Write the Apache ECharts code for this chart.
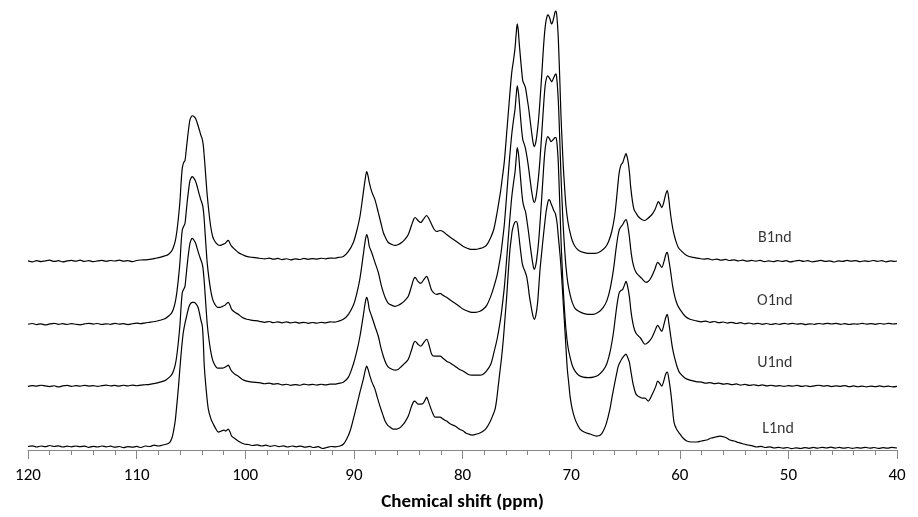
<!DOCTYPE html>
<html><head><meta charset="utf-8">
<script src="https://cdn.jsdelivr.net/npm/echarts@6/dist/echarts.min.js"></script>
<style>html,body{margin:0;padding:0;background:#fff}#c{width:918px;height:517px}</style>
</head><body><div id="c"></div>
<script>
const seriesNames = ['B1nd','O1nd','U1nd','L1nd'];
const offsets = [189,126,64,3];
const labelPpm = [51.25,51.25,51.25,50.95];
const labelLift = [23,23,23,18];
const axisTitle = 'Chemical shift (ppm)';

const B1nd = [[120,0.5],[119.6,-0.5],[119.2,0.8],[118.8,-0.2],[118.4,0.6],[118,1.2],[117.6,0],[117.2,0.7],[116.8,-0.4],[116.4,0.5],[116,1],[115.6,0.2],[115.2,1.2],[114.8,0],[114.4,0.8],[114,-0.3],[113.6,0.5],[113.2,1],[112.8,0.1],[112.4,0.9],[112,0.4],[111.6,1.3],[111.2,0.2],[110.8,0.8],[110.4,-0.2],[110,0.9],[109.6,1.4],[109.2,1.6],[108.8,2],[108.3,3],[107.85,4],[107.4,5.5],[107.08,7],[106.8,10],[106.62,14],[106.45,20],[106.31,29],[106.15,44],[106.0,62],[105.9,80],[105.79,94],[105.67,99],[105.55,101],[105.45,110],[105.33,122],[105.2,134],[105.09,142],[104.97,145],[104.87,146],[104.7,145],[104.56,143],[104.4,138],[104.23,132],[104.1,127],[104.0,124],[103.93,121],[103.86,116],[103.78,106],[103.7,95],[103.6,80],[103.49,65],[103.33,48],[103.18,35],[103.0,25],[102.79,20],[102.55,17],[102.32,16],[102.1,17],[101.86,18],[101.7,20],[101.56,21],[101.4,18],[101.25,15],[100.95,12],[100.64,9],[100.3,7],[99.87,5],[99.3,4],[98.7,3.2],[98.2,2.5],[97.8,3.3],[97.4,2.2],[97,3],[96.6,1.8],[96.2,2.7],[95.8,1.6],[95.4,2.6],[95,1.9],[94.6,3],[94.2,2.1],[93.8,2.9],[93.4,2.3],[93,3.2],[92.6,2.6],[92.2,3.4],[91.8,3.2],[91.4,4],[90.97,5],[90.5,10],[90.05,19],[89.75,30],[89.44,45],[89.13,69],[88.95,83],[88.82,90],[88.7,86],[88.58,79],[88.36,70],[88.06,62],[87.75,49],[87.5,38],[87.29,29],[87.05,23],[86.83,19],[86.5,17],[86.21,16],[85.9,17],[85.6,19],[85.3,22],[84.99,27],[84.7,36],[84.5,42],[84.37,44],[84.1,41],[83.85,39],[83.55,43],[83.3,46],[83.1,43],[82.84,37],[82.6,32],[82.37,30],[82.07,31],[81.8,30],[81.46,27],[81.1,24],[80.69,21],[80.3,18],[79.92,15],[79.5,13],[79.15,12],[78.8,12],[78.39,13],[78.1,14],[77.8,16],[77.4,24],[77.1,33],[76.8,50],[76.5,70],[76.39,79],[76.15,100],[75.93,129],[75.7,160],[75.47,189],[75.3,202],[75.17,213],[75.05,229],[74.96,238],[74.87,232],[74.78,219],[74.67,205],[74.56,192],[74.45,181],[74.3,177],[74.2,174],[74.07,165],[73.93,155],[73.78,142],[73.63,129],[73.5,119],[73.39,115],[73.28,118],[73.17,125],[73.0,142],[72.86,162],[72.7,188],[72.56,212],[72.45,228],[72.34,239],[72.25,244],[72.16,247],[72.05,246],[71.94,243],[71.85,239],[71.79,238],[71.7,240],[71.58,245],[71.48,250],[71.39,251],[71.3,244],[71.2,228],[71.14,212],[71.03,178],[70.93,145],[70.82,118],[70.72,95],[70.6,74],[70.47,55],[70.3,40],[70.1,29],[69.9,21],[69.64,15],[69.3,11],[68.88,9],[68.4,8],[67.8,8],[67.3,10],[66.86,14],[66.55,20],[66.26,30],[66.0,45],[65.8,65],[65.65,82],[65.56,90],[65.4,97],[65.25,99],[65.1,104],[64.95,108],[64.85,105],[64.74,99],[64.62,88],[64.52,75],[64.35,60],[64.21,52],[64.0,48],[63.82,45],[63.5,42],[63.2,41],[62.95,43],[62.74,45],[62.5,48],[62.28,52],[62.1,57],[61.97,60],[61.8,57],[61.66,54],[61.5,58],[61.3,67],[61.15,71],[61.0,62],[60.9,52],[60.75,40],[60.59,30],[60.4,22],[60.13,14],[59.8,10],[59.36,6],[58.8,4],[58.2,3],[57.8,2.2],[57.4,2.8],[57,1.6],[56.6,2.3],[56.2,1.2],[55.8,2],[55.4,0.9],[55,1.6],[54.6,0.5],[54.2,1.3],[53.8,0.2],[53.4,1],[53,0.3],[52.6,1.1],[52.2,-0.2],[51.8,0.6],[51.4,-0.3],[51,0.8],[50.6,0],[50.2,0.7],[49.8,-0.5],[49.4,0.4],[49,1],[48.6,0],[48.2,0.8],[47.8,-0.4],[47.4,0.3],[47,1.1],[46.6,0],[46.2,0.6],[45.8,-0.6],[45.4,0.5],[45,0],[44.6,1],[44.2,0.2],[43.8,0.8],[43.4,-0.3],[43,0.6],[42.6,0],[42.2,0.9],[41.8,0.1],[41.4,0.7],[41,-0.4],[40.6,0.5],[40.2,0],[40,0.4]];

const O1nd = [[120,0],[119.6,0.8],[119.2,-0.3],[118.8,0.5],[118.4,-0.6],[118,0.4],[117.6,1],[117.2,0],[116.8,0.6],[116.4,-0.2],[116,0.7],[115.6,0],[115.2,-0.5],[114.8,0.4],[114.4,1],[114,0.2],[113.6,0.8],[113.2,-0.2],[112.8,0.5],[112.4,0],[112,0.9],[111.6,0.2],[111.2,0.6],[110.8,-0.3],[110.4,0.5],[110,1.1],[109.6,0.6],[109.2,1.5],[108.8,2],[108.3,2.8],[107.85,4],[107.4,5.5],[107.08,8],[106.8,11],[106.62,15],[106.45,22],[106.31,31],[106.15,46],[106.0,64],[105.9,82],[105.79,95],[105.67,98],[105.55,101],[105.45,111],[105.33,124],[105.2,136],[105.09,144],[104.97,147],[104.87,148],[104.7,146],[104.56,143],[104.4,137],[104.23,130],[104.1,125],[104.0,122],[103.9,118],[103.8,108],[103.7,92],[103.6,76],[103.49,60],[103.33,45],[103.18,34],[103.0,25],[102.79,20],[102.55,17],[102.32,17],[102.1,18],[101.86,19],[101.7,21],[101.56,22],[101.4,19],[101.25,15],[100.95,12],[100.64,10],[100.3,7],[99.87,5],[99.3,4],[98.7,3],[98.2,2],[97.8,2.8],[97.4,1.6],[97,2.4],[96.6,1.5],[96.2,2.5],[95.8,1.4],[95.4,2.2],[95,1.2],[94.6,2],[94.2,1],[93.8,1.8],[93.4,1.1],[93,2],[92.6,1.5],[92.2,2.4],[91.8,2.2],[91.4,3.2],[90.97,5],[90.5,10],[90.05,19],[89.75,30],[89.44,46],[89.13,70],[88.95,84],[88.82,90],[88.7,86],[88.58,78],[88.36,72],[88.06,62],[87.75,52],[87.5,40],[87.29,32],[87.05,25],[86.83,21],[86.5,19],[86.21,18],[85.9,19],[85.6,21],[85.3,24],[84.99,28],[84.7,38],[84.5,45],[84.37,47],[84.1,43],[83.85,41],[83.55,45],[83.3,48],[83.1,43],[82.84,34],[82.6,31],[82.37,30],[82.07,31],[81.8,29],[81.46,27],[81.1,24],[80.69,21],[80.3,18],[79.92,15],[79.5,13],[79.15,12],[78.8,12],[78.39,13],[78.1,15],[77.77,19],[77.4,28],[77.1,38],[76.8,50],[76.5,68],[76.39,77],[76.15,100],[75.93,130],[75.7,162],[75.47,190],[75.3,205],[75.17,215],[75.05,230],[74.96,239],[74.85,232],[74.75,220],[74.6,200],[74.45,185],[74.3,180],[74.2,176],[74.07,168],[73.93,158],[73.78,145],[73.63,133],[73.5,125],[73.39,122],[73.28,125],[73.17,132],[73.0,148],[72.86,166],[72.7,192],[72.56,215],[72.45,232],[72.34,243],[72.16,249],[72.0,247],[71.85,244],[71.79,243],[71.65,246],[71.48,250],[71.39,251],[71.3,244],[71.2,228],[71.14,214],[71.03,180],[70.93,148],[70.82,120],[70.72,97],[70.6,76],[70.47,57],[70.3,41],[70.1,30],[69.9,22],[69.64,16],[69.3,13],[68.88,11],[68.4,10],[67.96,10],[67.5,12],[67.04,17],[66.7,24],[66.4,36],[66.1,55],[65.87,75],[65.7,88],[65.56,95],[65.4,98],[65.25,100],[65.1,103],[64.95,105],[64.82,101],[64.64,88],[64.5,74],[64.33,62],[64.15,55],[63.96,51],[63.5,46],[63.1,42],[62.8,44],[62.58,48],[62.3,55],[62.03,62],[61.85,60],[61.66,57],[61.45,63],[61.28,70],[61.15,72],[61.0,64],[60.83,52],[60.65,38],[60.44,27],[60.2,19],[59.98,15],[59.5,8],[59.06,5],[58.5,3.5],[58,2.5],[57.6,3.2],[57.2,2],[56.8,2.8],[56.4,1.6],[56,2.3],[55.6,1.2],[55.2,2],[54.8,0.8],[54.4,1.6],[54,0.5],[53.6,1.3],[53.2,0.3],[52.8,1],[52.4,0],[52,0.8],[51.6,-0.2],[51.2,0.6],[50.8,0],[50.4,0.9],[50,0.2],[49.6,1],[49.2,0.1],[48.8,0.7],[48.4,-0.3],[48,0.5],[47.6,0],[47.2,0.8],[46.8,0.2],[46.4,1],[46,0.3],[45.6,0.9],[45.2,0],[44.8,0.6],[44.4,-0.2],[44,0.5],[43.6,0.1],[43.2,0.9],[42.8,0.2],[42.4,0.7],[42,0],[41.6,0.8],[41.2,0.2],[40.8,0.9],[40.4,0.3],[40,0.7]];

const U1nd = [[120,-0.3],[119.6,0.5],[119.2,0],[118.8,0.9],[118.4,0.2],[118,-0.4],[117.6,0.4],[117.2,-0.8],[116.8,0.2],[116.4,0.7],[116,-0.2],[115.6,0.5],[115.2,0],[114.8,0.8],[114.4,0.1],[114,0.6],[113.6,-0.3],[113.2,0.5],[112.8,1],[112.4,0.2],[112,0.7],[111.6,0],[111.2,0.9],[110.8,0.3],[110.4,1],[110,0.4],[109.6,1.1],[109.2,1.4],[108.8,1.8],[108.3,2.8],[107.85,4],[107.4,5.5],[107.08,8],[106.8,11],[106.62,15],[106.45,21],[106.31,30],[106.15,45],[106.0,63],[105.9,81],[105.79,94],[105.67,97],[105.55,100],[105.45,110],[105.33,123],[105.2,135],[105.09,143],[104.97,147],[104.87,148],[104.7,146],[104.56,143],[104.4,137],[104.23,131],[104.1,127],[104.0,124],[103.9,119],[103.8,108],[103.7,93],[103.6,77],[103.49,61],[103.33,46],[103.18,35],[103.0,26],[102.79,21],[102.55,18],[102.32,18],[102.1,18],[101.86,19],[101.7,20],[101.56,21],[101.4,18],[101.25,15],[100.95,12],[100.64,10],[100.3,7],[99.87,5],[99.3,4],[98.7,3.5],[98.2,2.4],[97.8,3],[97.4,2],[97,2.6],[96.6,1.3],[96.2,1.9],[95.8,0.8],[95.4,1.6],[95,0.9],[94.6,2],[94.2,1.2],[93.8,1.8],[93.4,1],[93,1.9],[92.6,1.2],[92.2,2],[91.8,2],[91.4,2.8],[90.97,4],[90.5,9],[90.05,22],[89.75,34],[89.44,50],[89.13,71],[88.95,84],[88.82,89],[88.7,85],[88.58,77],[88.36,70],[88.06,60],[87.75,50],[87.5,38],[87.29,30],[87.05,23],[86.83,19],[86.5,17],[86.21,16],[85.9,17],[85.6,20],[85.3,23],[84.99,27],[84.7,36],[84.5,43],[84.37,45],[84.1,42],[83.85,40],[83.55,44],[83.3,47],[83.1,42],[82.84,32],[82.6,30],[82.37,30],[82.07,30],[81.8,28],[81.46,25],[81.1,23],[80.69,20],[80.3,17],[79.92,15],[79.5,12],[79.15,11],[78.8,11],[78.39,11],[78.1,12],[77.8,15],[77.4,22],[77.1,34],[76.8,48],[76.5,67],[76.39,76],[76.15,99],[75.93,128],[75.7,160],[75.47,189],[75.3,204],[75.17,214],[75.05,229],[74.96,239],[74.85,233],[74.75,221],[74.6,201],[74.45,185],[74.3,178],[74.2,175],[74.07,166],[73.93,155],[73.78,142],[73.63,130],[73.5,121],[73.39,117],[73.28,120],[73.17,127],[73.0,144],[72.86,164],[72.7,190],[72.56,214],[72.45,231],[72.34,242],[72.16,250],[72.0,248],[71.85,245],[71.79,245],[71.65,247],[71.48,249],[71.39,249],[71.3,243],[71.2,228],[71.14,212],[71.03,178],[70.93,146],[70.82,119],[70.72,96],[70.6,75],[70.47,56],[70.3,40],[70.1,29],[69.9,21],[69.64,15],[69.3,11],[68.88,9],[68.4,8.5],[67.96,9],[67.5,11],[67.04,16],[66.7,23],[66.4,35],[66.1,54],[65.87,74],[65.7,87],[65.56,94],[65.4,96],[65.25,97],[65.1,101],[64.95,105],[64.82,101],[64.64,90],[64.5,76],[64.33,64],[64.15,56],[63.96,52],[63.6,48],[63.2,42],[62.9,44],[62.6,48],[62.3,55],[62.03,61],[61.85,58],[61.66,55],[61.45,62],[61.28,69],[61.15,72],[61.0,63],[60.83,50],[60.65,37],[60.44,27],[60.2,18],[59.98,13],[59.5,8],[59.06,6],[58.5,4.5],[58.0,4],[57.6,3],[57.2,3.6],[56.8,2.5],[56.4,3],[56,2],[55.6,2.6],[55.2,1.5],[54.8,2.2],[54.4,1],[54,1.8],[53.6,0.8],[53.2,1.4],[52.8,0.5],[52.4,1.2],[52,0.2],[51.6,0.9],[51.2,0],[50.8,0.6],[50.4,-0.3],[50,0.5],[49.6,0],[49.2,0.8],[48.8,-0.2],[48.4,0.4],[48,-0.5],[47.6,0.3],[47.2,0.9],[46.8,0],[46.4,0.5],[46,-0.4],[45.6,0.3],[45.2,-0.2],[44.8,0.6],[44.4,-0.5],[44,0.2],[43.6,-0.6],[43.2,0],[42.8,-0.8],[42.4,0],[42,-0.5],[41.6,0.2],[41.2,-0.6],[40.8,0],[40.4,-0.7],[40,-0.2]];

const L1nd = [[120,0.5],[119.6,1.2],[119.2,0],[118.8,1],[118.4,0.3],[118,1.5],[117.6,0.5],[117.2,1.2],[116.8,0],[116.4,0.8],[116,0.2],[115.6,1],[115.2,0.3],[114.8,0.9],[114.4,-0.3],[114,0.6],[113.6,0],[113.2,1],[112.8,0.2],[112.4,0.8],[112,-0.2],[111.6,0.5],[111.2,-0.6],[110.8,0.4],[110.4,-0.2],[110,0.6],[109.6,-0.5],[109.2,1],[108.8,0.5],[108.4,1.8],[108,1],[107.6,2],[107.2,3],[106.93,5],[106.75,9],[106.62,15],[106.45,26],[106.31,41],[106.15,60],[106.0,81],[105.85,100],[105.7,115],[105.55,124],[105.4,131],[105.25,138],[105.09,143],[104.87,145],[104.7,145],[104.5,143],[104.35,140],[104.23,135],[104.1,128],[103.95,121],[103.86,105],[103.77,81],[103.6,58],[103.4,38],[103.15,28],[102.94,23],[102.7,18],[102.48,15],[102.2,16],[101.96,17],[101.8,16],[101.56,18],[101.4,15],[101.25,11],[100.9,8],[100.5,5],[100.1,3],[99.7,2.5],[99.3,1.5],[98.9,2.2],[98.5,1],[98.1,1.8],[97.7,0.6],[97.3,1.5],[96.9,0.4],[96.5,1.2],[96.1,0],[95.7,1],[95.3,0.2],[94.9,0.9],[94.5,-0.2],[94.1,0.6],[93.7,-0.5],[93.3,0.3],[92.9,-1.5],[92.5,-0.5],[92.1,0.5],[91.7,0.2],[91.28,1],[90.95,3],[90.66,8],[90.35,16],[90.05,28],[89.75,41],[89.44,55],[89.13,68],[88.95,77],[88.82,81],[88.7,78],[88.52,71],[88.3,64],[88.06,58],[87.85,50],[87.6,41],[87.35,33],[87.13,26],[86.9,22],[86.67,20],[86.4,18],[86.06,18],[85.8,19],[85.6,21],[85.3,25],[84.99,31],[84.75,39],[84.53,45],[84.4,46],[84.28,45],[84.1,43],[83.98,43],[83.8,43],[83.61,44],[83.45,47],[83.3,50],[83.15,46],[82.99,41],[82.75,34],[82.53,30],[82.3,30],[82.07,30],[81.8,28],[81.46,26],[81.1,23],[80.69,21],[80.3,18],[79.92,16],[79.7,14],[79.46,13],[79.1,12],[78.69,13],[78.4,14],[78.08,16],[77.8,19],[77.47,25],[77.2,32],[77.0,38],[76.85,48],[76.7,62],[76.55,76],[76.4,90],[76.24,108],[76.08,130],[75.93,151],[75.78,176],[75.63,198],[75.5,210],[75.4,218],[75.2,225],[75.05,226],[74.95,224],[74.85,216],[74.72,203],[74.6,192],[74.5,184],[74.4,180],[74.25,176],[74.1,171],[73.95,161],[73.85,152],[73.7,142],[73.55,133],[73.39,128],[73.25,132],[73.1,143],[72.98,160],[72.86,178],[72.7,196],[72.56,211],[72.43,224],[72.3,236],[72.15,245],[72.05,248],[71.95,247],[71.85,244],[71.7,240],[71.6,237],[71.45,234],[71.3,225],[71.17,210],[71.0,190],[70.87,170],[70.7,140],[70.56,115],[70.45,95],[70.35,78],[70.2,62],[70.1,51],[69.9,38],[69.64,28],[69.4,22],[69.18,18],[68.8,15],[68.26,13],[67.65,11],[67.3,12],[67.04,16],[66.75,24],[66.43,38],[66.2,52],[65.97,65],[65.8,74],[65.66,81],[65.5,85],[65.35,88],[65.15,91],[64.95,93],[64.8,90],[64.64,85],[64.5,76],[64.33,65],[64.18,58],[64.03,53],[63.85,51],[63.67,50],[63.45,49],[63.2,49],[62.9,46],[62.7,49],[62.44,55],[62.2,61],[62.03,66],[61.85,64],[61.66,61],[61.45,67],[61.3,73],[61.15,75],[61.0,68],[60.83,55],[60.68,40],[60.53,25],[60.3,18],[59.98,13],[59.7,9],[59.36,6],[58.9,5],[58.44,5],[58,6],[57.52,7],[57.1,9],[56.7,10],[56.3,11],[55.9,10],[55.6,8.5],[55.39,7],[55,6],[54.6,4.5],[54.15,3],[53.7,2],[53.3,1.2],[52.92,0],[52.5,0.6],[52.1,-0.5],[51.7,0.2],[51.3,-1],[50.9,-0.3],[50.5,-1.2],[50.1,-0.5],[49.7,-1.6],[49.3,-0.8],[48.9,-1.5],[48.5,-0.6],[48.1,-1.3],[47.7,-0.4],[47.3,-1.2],[46.9,-0.3],[46.5,-1],[46.1,-0.2],[45.7,-1.1],[45.3,-0.4],[44.9,-1.2],[44.5,-0.5],[44.1,-1.4],[43.7,-0.6],[43.3,-1.1],[42.9,-0.3],[42.5,-1.2],[42.1,-0.5],[41.7,-1.4],[41.3,-0.7],[40.9,-1.2],[40.5,-0.4],[40,-1]];

const spectra = [B1nd, O1nd, U1nd, L1nd];
const FONT = 'Carlito, Lato, "Liberation Sans", sans-serif';
const chart = echarts.init(document.getElementById('c'));

const lineSeries = spectra.map((s, i) => ({
  type: 'line',
  name: seriesNames[i],
  data: s.map(p => [p[0], p[1] + offsets[i]]),
  showSymbol: false,
  symbol: 'none',
  smooth: 0.3,
  clip: false,
  silent: true,
  lineStyle: { color: '#000', width: 1.2 }
}));

const labelSeries = {
  type: 'scatter',
  symbolSize: 0,
  silent: true,
  data: seriesNames.map((n, i) => ({ name: n, value: [labelPpm[i], offsets[i] + labelLift[i]] })),
  label: { show: true, position: 'inside', formatter: '{b}', color: '#000', fontSize: 16, fontFamily: FONT }
};

chart.setOption({
  animation: false,
  backgroundColor: '#fff',
  grid: { left: 28, right: 21, top: 1, bottom: 66 },
  xAxis: {
    type: 'value', inverse: true, min: 40, max: 120, interval: 10,
    name: axisTitle, nameLocation: 'middle', nameGap: 43,
    nameTextStyle: { fontWeight: 'bold', fontSize: 19, color: '#000', fontFamily: FONT },
    axisLine: { show: true, onZero: false, lineStyle: { color: '#868686', width: 1 } },
    axisTick: { show: true, length: 9, lineStyle: { color: '#868686' } },
    minorTick: { show: true, splitNumber: 5, length: 5, lineStyle: { color: '#868686' } },
    splitLine: { show: false },
    axisLabel: { fontSize: 17, color: '#000', margin: 17, fontFamily: FONT }
  },
  yAxis: { type: 'value', min: 0, max: 450, show: false },
  series: [...lineSeries, labelSeries]
});
</script>
</body></html>
